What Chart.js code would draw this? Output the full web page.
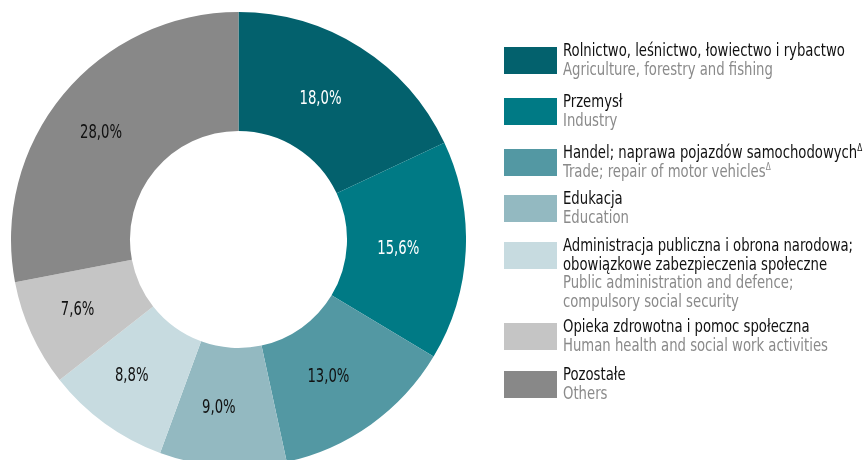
<!DOCTYPE html>
<html>
<head>
<meta charset="utf-8">
<script src="https://cdn.jsdelivr.net/npm/chart.js@4.4.1/dist/chart.umd.min.js"></script>
<style>
  html, body { margin: 0; padding: 0; background: #fff; overflow: hidden; width: 863px; height: 460px; }
  #wrap { position: absolute; left: 11px; top: 12px; width: 455px; height: 455px; }
  #legend { position: absolute; left: 0; top: 0; width: 863px; height: 460px; }
  .item { position: absolute; left: 504px; font-family: "DejaVu Sans Condensed", "DejaVu Sans", sans-serif; font-stretch: condensed; font-size: 18px; line-height: 18.5px; white-space: nowrap; }
  .sw { position: absolute; left: 0; width: 53px; height: 27px; }
  .txt { position: absolute; left: 59px; top: 0; transform-origin: 0 0; }
  .pl { color: #111; }
  .en { color: #8a8a8a; }
  sup { font-size: 10px; line-height: 0; vertical-align: 0; position: relative; top: -7px; }
</style>
</head>
<body>
<div id="wrap"><canvas id="c"></canvas></div>
<div id="legend"></div>
<script>
// data
const labelsPl = [
  "Rolnictwo, leśnictwo, łowiectwo i rybactwo",
  "Przemysł",
  "Handel; naprawa pojazdów samochodowych<sup>Δ</sup>",
  "Edukacja",
  "Administracja publiczna i obrona narodowa;<br>obowiązkowe zabezpieczenia społeczne",
  "Opieka zdrowotna i pomoc społeczna",
  "Pozostałe"
];
const labelsEn = [
  "Agriculture, forestry and fishing",
  "Industry",
  "Trade; repair of motor vehicles<sup>Δ</sup>",
  "Education",
  "Public administration and defence;<br>compulsory social security",
  "Human health and social work activities",
  "Others"
];
const shares = [18.0, 15.6, 13.0, 9.0, 8.8, 7.6, 28.0];

const colors = ["#03616d", "#007a85", "#5398a3", "#93b9c1", "#c7dbe0", "#c5c5c5", "#888888"];
const labelColors = ["#fff", "#fff", "#111", "#111", "#111", "#111", "#111"];
// top of each legend entry (layout)
const legendTop = [41, 92, 143, 189, 236, 317, 365];
const FONT = '"DejaVu Sans Condensed", "DejaVu Sans", sans-serif';

// legend in HTML
const lg = document.getElementById('legend');
const txts = [];
labelsPl.forEach((pl, i) => {
  const d = document.createElement('div');
  d.className = 'item';
  d.style.top = legendTop[i] + 'px';
  d.innerHTML = '<div class="sw" style="top:6px;background:' + colors[i] + '"></div>' +
    '<div class="txt"><div class="pl"><span>' + pl + '</span></div><div class="en"><span>' + labelsEn[i] + '</span></div></div>';
  lg.appendChild(d);
  txts.push(d.querySelector('.txt'));
});
// squeeze the text to the condensed width of the original
const w1 = txts[0].querySelector('.pl span').getBoundingClientRect().width;
const w2 = txts[5].querySelector('.en span').getBoundingClientRect().width;
const sx = (286 / w1 + 261 / w2) / 2;
txts.forEach(t => { t.style.transform = 'scaleX(' + sx + ')'; });

// values on the slices
const sliceLabels = {
  id: 'sliceLabels',
  afterDatasetsDraw(chart) {
    const ctx = chart.ctx;
    const meta = chart.getDatasetMeta(0);
    ctx.save();
    ctx.font = '19px ' + FONT;
    ctx.textAlign = 'center';
    ctx.textBaseline = 'middle';
    const k = 42 / ctx.measureText('18,0%').width;
    meta.data.forEach((arc, i) => {
      const p = arc.tooltipPosition();
      ctx.save();
      ctx.translate(p.x - 8, p.y + 1);
      ctx.scale(k, 1);
      ctx.fillStyle = labelColors[i];
      ctx.fillText(shares[i].toFixed(1).replace('.', ',') + '%', 0, 0);
      ctx.restore();
    });
    ctx.restore();
  }
};

new Chart(document.getElementById('c'), {
  type: 'doughnut',
  data: {
    labels: labelsPl,
    datasets: [{
      data: shares,
      backgroundColor: colors,
      borderWidth: 0,
      hoverOffset: 0
    }]
  },
  options: {
    responsive: true,
    maintainAspectRatio: false,
    animation: false,
    cutout: '47.7%',
    layout: { padding: 0 },
    plugins: { legend: { display: false }, tooltip: { enabled: false } }
  },
  plugins: [sliceLabels]
});
</script>
</body>
</html>
